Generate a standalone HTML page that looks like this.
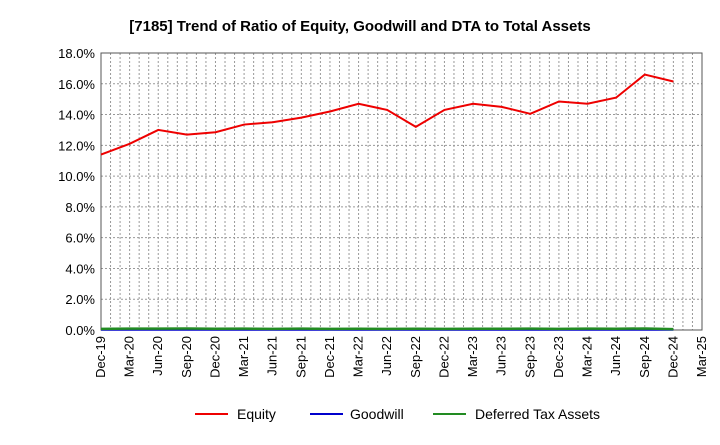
<!DOCTYPE html>
<html><head><meta charset="utf-8"><style>
body{margin:0;background:#fff;font-family:"Liberation Sans",sans-serif}
</style></head><body>
<svg id="c" width="720" height="440" xmlns="http://www.w3.org/2000/svg">
<text x="360" y="31" text-anchor="middle" font-size="15" font-weight="bold">[7185]  Trend of Ratio of Equity, Goodwill and DTA to Total Assets</text>
<g id="grid"></g><g id="axes"></g><g id="series"></g>
<g font-size="14">
<line x1="195" y1="414" x2="228" y2="414" stroke="#e00" stroke-width="2"/><text x="237" y="419">Equity</text>
<line x1="310" y1="414" x2="343" y2="414" stroke="#00c" stroke-width="2"/><text x="350" y="419">Goodwill</text>
<line x1="433" y1="414" x2="466" y2="414" stroke="#228b22" stroke-width="2"/><text x="475" y="419">Deferred Tax Assets</text>
</g>
</svg>
<script>
const categories=["Dec-19","Mar-20","Jun-20","Sep-20","Dec-20","Mar-21","Jun-21","Sep-21","Dec-21","Mar-22","Jun-22","Sep-22","Dec-22","Mar-23","Jun-23","Sep-23","Dec-23","Mar-24","Jun-24","Sep-24","Dec-24","Mar-25"];
const equity=[11.4,12.1,13.0,12.7,12.85,13.35,13.5,13.8,14.2,14.7,14.3,13.2,14.3,14.7,14.5,14.05,14.85,14.7,15.1,16.6,16.15];
const goodwill=[0,0,0,0,0,0,0,0,0,0,0,0,0,0,0,0,0,0,0,0,0];
const dta=[0.07,0.09,0.09,0.1,0.08,0.09,0.07,0.09,0.07,0.08,0.07,0.08,0.07,0.08,0.08,0.09,0.07,0.09,0.08,0.1,0.06];
const yTicks=[0,2,4,6,8,10,12,14,16,18];
const NS="http://www.w3.org/2000/svg";
const L=101,R=702,T=53,B=330;
const xs=i=>L+i*(R-L)/(categories.length-1);
const ys=v=>B-v/18*(B-T);
function mk(t,a,p){const e=document.createElementNS(NS,t);for(const k in a)e.setAttribute(k,a[k]);p.appendChild(e);return e;}
const grid=document.getElementById('grid'),axes=document.getElementById('axes'),ser=document.getElementById('series');
for(let m=1;m<(categories.length-1)*3;m++){const x=L+m*(R-L)/((categories.length-1)*3);
const g=mk('line',{x1:x,x2:x,y1:T,y2:B,stroke:'#999','stroke-dasharray':'2,2'},grid);

}
yTicks.forEach(v=>{const y=ys(v);
if(v>0){const g=mk('line',{x1:L,x2:R,y1:y,y2:y,stroke:'#999','stroke-dasharray':'2,2'},grid);

}
const t=mk('text',{x:L-6,y:y+5,'text-anchor':'end','font-size':13},axes);t.textContent=v.toFixed(1)+'%';

});
const fr=mk('rect',{x:L,y:T,width:R-L,height:B-T,fill:'none',stroke:'#555'},axes);


categories.forEach((c,i)=>{const x=xs(i);
const t=mk('text',{x:x+4,y:B+6,'text-anchor':'end','font-size':13,transform:`rotate(-90 ${x+4} ${B+6})`},axes);t.textContent=c;

});
function line(d,col,name,w){const p=mk('polyline',{points:d.map((v,i)=>xs(i)+','+ys(v)).join(' '),fill:'none',stroke:col,'stroke-width':w},ser);

}
line(goodwill,'#00c','goodwill-line',1.5);
line(dta,'#228b22','dta-line',2.5);
line(equity,'#e00','equity-line',2);
</script>
</body></html>
